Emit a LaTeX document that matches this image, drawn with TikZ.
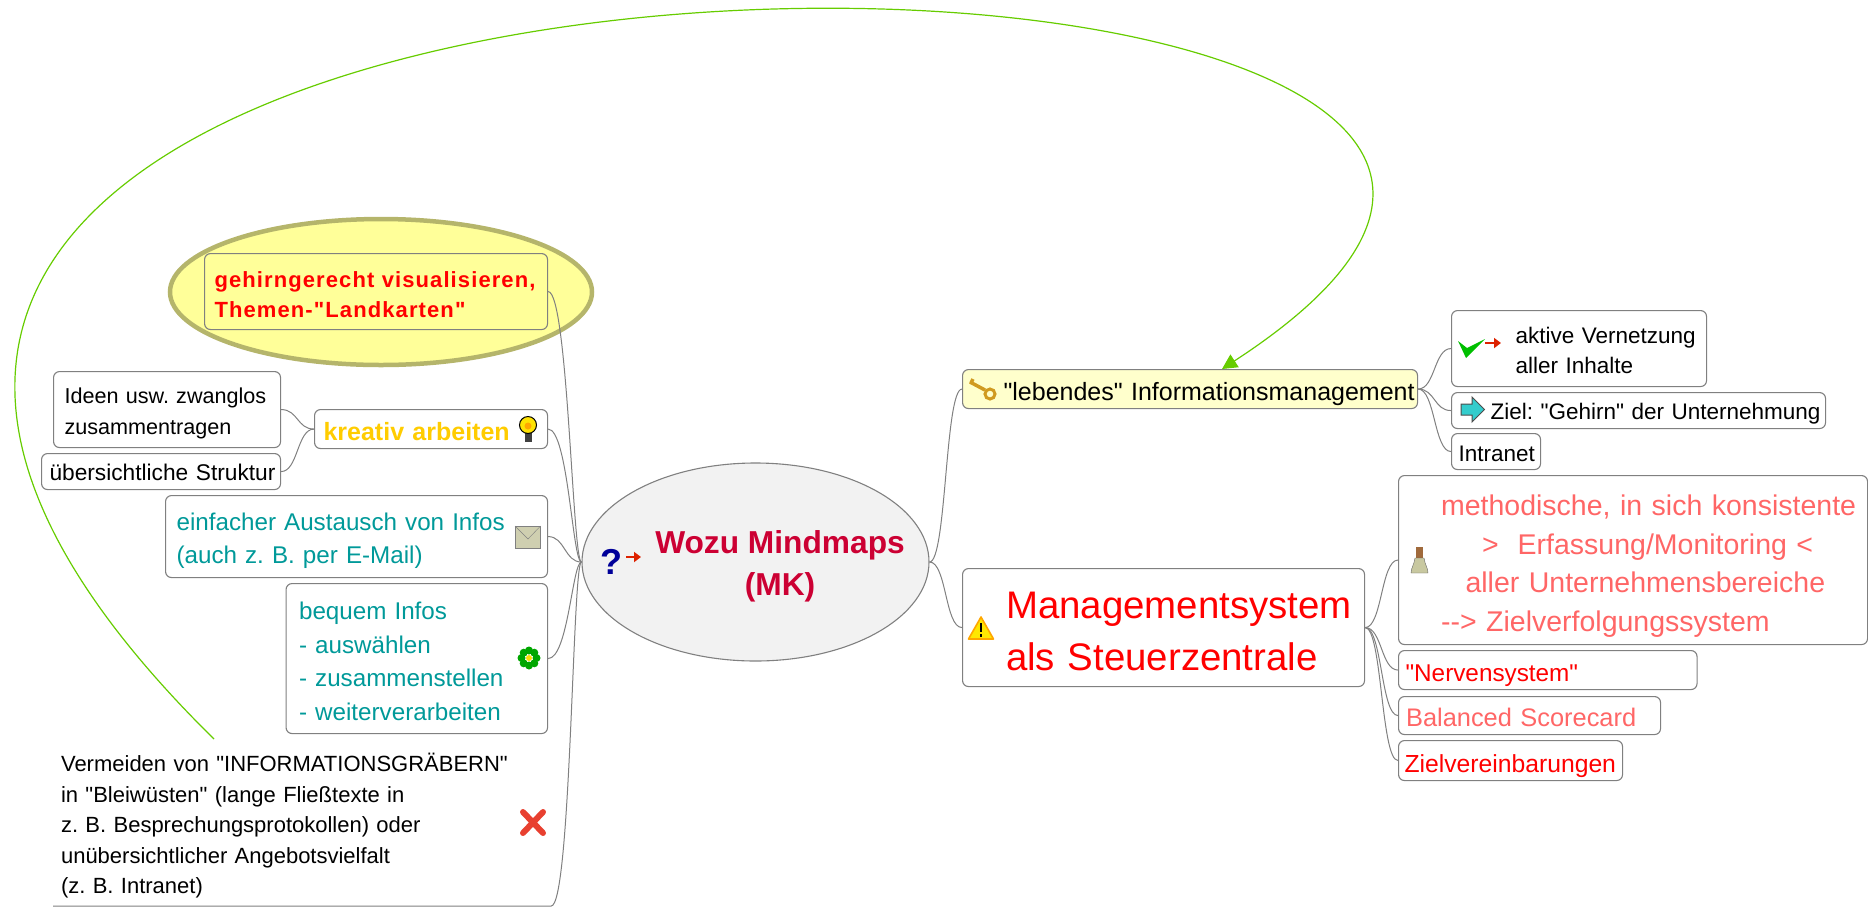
\documentclass[tikz,border=0pt]{standalone}
\usepackage{fontspec}
\newfontfamily\mapfont{Liberation Sans}
\newfontfamily\spacedfont[LetterSpace=5]{Liberation Sans}
\usetikzlibrary{shapes.geometric,arrows.meta}
\definecolor{linegray}{HTML}{808080}
\definecolor{tealtext}{HTML}{009999}
\definecolor{palered}{HTML}{FF6666}
\definecolor{rootred}{HTML}{CC0033}
\definecolor{linkgreen}{HTML}{66CC00}
\definecolor{amber}{HTML}{FFCC00}
\definecolor{arrowred}{HTML}{DD2200}
\definecolor{cloudfill}{HTML}{FFFF99}
\definecolor{cloudline}{HTML}{B5B56B}
\definecolor{keygold}{HTML}{D09A20}
\definecolor{envelope}{HTML}{CFCFB0}
\definecolor{arrowcyan}{HTML}{33CCCC}
\definecolor{crossred}{HTML}{E84030}
\definecolor{bellbody}{HTML}{C8C8A0}
\definecolor{bellbrown}{HTML}{A06A3C}
\newcommand{\sized}[2]{\fontsize{#1}{#2}\selectfont}
\newcommand{\drop}[1]{\rule{0pt}{#1pt}}
\tikzset{
    box/.style n args={3}{anchor=north west, draw=linegray, line width=1.1pt, rounded corners=6pt,
        inner sep=0pt, align=left, minimum width=#1pt, minimum height=#2pt, text width=#1pt-8pt,
        execute at begin node={\frenchspacing\leftskip=#3pt\rightskip=-200pt plus 1fil}},
    branch/.style 2 args={to path={.. controls +(#1,0) and +(-#2,0) .. (\tikztotarget)}},
    fork/.style={branch={17}{17}},
    trunk/.style={branch={20}{9}},
    connector/.style={draw=linegray, line width=1pt},
    smallarrow/.style={draw=arrowred, line width=2.8pt, -{Triangle[length=7pt,width=10pt]}},
}
\begin{document}
\begin{tikzpicture}[x=1pt,y=-1pt]
\mapfont
\useasboundingbox (0,0) rectangle (1868,906);
\node[ellipse, draw=cloudline, line width=4.5pt, fill=cloudfill, minimum width=422pt, minimum height=146pt, inner sep=0pt] (cloud) at (381,292) {};

% left side
\node[box={343}{76}{6}, fill=cloudfill, text=red, font=\spacedfont\bfseries\sized{22}{30}] (gehirn) at (204,253) {\drop{22}gehirngerecht visualisieren,\\Themen-"Landkarten"};
\node[box={233}{39}{5}, text=amber, font=\bfseries\sized{25}{30}] (kreativ) at (314,409) {\drop{23}kreativ arbeiten};
\node[box={227}{76}{7}, font=\sized{21.6}{31}] (ideen) at (53,371) {\drop{23.6}Ideen usw. zwanglos\\zusammentragen};
\node[box={239}{36}{4}, font=\sized{22.7}{30}] (struktur) at (41,453) {\drop{18}übersichtliche Struktur};
\node[box={382}{82}{7}, text=tealtext, font=\sized{24.2}{33}] (austausch) at (165,495) {\drop{26}einfacher Austausch von Infos\\(auch z. B. per E-Mail)};
\node[box={261.5}{150}{9}, text=tealtext, font=\sized{24.2}{33.7}] (bequem) at (285.5,583) {\drop{23}bequem Infos\\- auswählen\\- zusammenstellen\\- weiterverarbeiten};
\node[box={497}{160}{3.5}, draw=none, font=\sized{22}{30.5}] (vermeiden) at (53,745) {\drop{18.6}Vermeiden von "INFORMATIONSGRÄBERN"\\in "Bleiwüsten" (lange Fließtexte in\\z. B. Besprechungsprotokollen) oder\\unübersichtlicher Angebotsvielfalt\\(z. B. Intranet)};

% root
\node[ellipse, draw=linegray, line width=1.1pt, fill=black!5, text=rootred, align=center, inner sep=0pt, minimum width=347pt, minimum height=198pt, font=\bfseries\sized{31.7}{42}] (wozu) at (755.5,562) {\drop{31}\makebox[0pt]{\hspace*{49pt}Wozu Mindmaps}\\\makebox[0pt]{\hspace*{49pt}(MK)}};

% right side
\node[box={455}{39}{37}, fill=cloudfill!50, font=\sized{25}{30}] (lebendes) at (962,369) {\drop{28.5}"lebendes" Informationsmanagement};
\node[box={255}{76}{60}, font=\sized{22.5}{30.5}] (aktive) at (1451,310) {\drop{20.4}aktive Vernetzung\\aller Inhalte};
\node[box={374}{36}{35}, font=\sized{22.5}{30}] (ziel) at (1451,392) {\drop{22.4}Ziel: "Gehirn" der Unternehmung};
\node[box={89}{36}{3}, font=\sized{22.5}{30}] (intranet) at (1451,433) {\drop{20}Intranet};
\node[box={402}{118}{39.5}, text=red, font=\sized{38.4}{52}] (management) at (962,568) {\drop{34}Managementsystem\\als Steuerzentrale};
\node[box={469}{169}{38.5}, text=palered, font=\sized{28.5}{38.6}] (methodische) at (1398,475) {\drop{33}methodische, in sich konsistente\\\hspace*{41pt}>\ \ Erfassung/Monitoring <\\\hspace*{24.5pt}aller Unternehmensbereiche\\--> Zielverfolgungssystem};
\node[box={298.5}{39}{3}, text=red, font=\sized{24.3}{30}] (nerven) at (1398,650) {\drop{27}"Nervensystem"};
\node[box={262}{38}{3.5}, text=palered, font=\sized{25.4}{30}] (balanced) at (1398,696) {\drop{22}Balanced Scorecard};
\node[box={224}{40}{2}, text=red, font=\sized{24.7}{30}] (ziele) at (1398,740) {\drop{29}Zielvereinbarungen};

% connectors
\draw[connector] (ideen.east) to[fork] (kreativ.west);
\draw[connector] (struktur.east) to[fork] (kreativ.west);
\draw[connector] (gehirn.east) to[trunk] (wozu.west);
\draw[connector] (kreativ.east) to[trunk] (wozu.west);
\draw[connector] (austausch.east) to[fork] (wozu.west);
\draw[connector] (bequem.east) to[trunk] (wozu.west);
\draw[connector] (vermeiden.south west) -- (vermeiden.south east) to[trunk] (wozu.west);
\draw[connector] (wozu.east) to[fork] (lebendes.west);
\draw[connector] (wozu.east) to[fork] (management.west);
\foreach \leaf in {aktive,ziel,intranet} \draw[connector] (lebendes.east) to[fork] (\leaf.west);
\foreach \leaf in {methodische,nerven,balanced,ziele} \draw[connector] (management.east) to[fork] (\leaf.west);

% green link
\coordinate (linkstart) at (214,739);
\coordinate (linkend) at (1222,369);
\draw[linkgreen, line width=1.2pt, -{Triangle[length=15pt,width=15pt]}] (linkstart) .. controls (-725,-185) and (2004,-140) .. (linkend);

% icons
\node[text=blue!60!black, font=\bfseries\sized{36}{36}] (question) at (611,562) {?};
\coordinate (qtail) at (626,557);
\coordinate (qhead) at (641,557);
\draw[smallarrow] (qtail) -- (qhead);
\coordinate (ctail) at (1485,343);
\coordinate (chead) at (1501,343);
\draw[smallarrow] (ctail) -- (chead);
% bulb
\fill[black!75] (524.5,433) rectangle (531.5,442);
\draw[fill=yellow!85!orange, line width=1pt] (528,425) circle (8.5pt);
\fill[orange!70!yellow] (528,426) circle (3.5pt);
% envelope
\draw[fill=envelope, draw=black!50] (515,526) rectangle (540.5,548);
\draw[draw=black!50] (515,526) -- (528,539) -- (540.5,526);
% flower
\foreach \a in {0,45,...,315} \fill[green!65!black, shift={(529,658)}] (\a:7.5) circle (4pt);
\fill[yellow!80!orange] (529,658) circle (3pt);
% cross
\draw[crossred, line width=6pt, line cap=round] (523,812) -- (543,833) (543,812) -- (523,833);
% key
\draw[keygold, line width=3.5pt] (970,382) -- (985,390) (973,379) -- (971,383);
\draw[keygold, line width=3pt] (990,394) circle (5pt);
% check
\fill[green!75!black] (1458,341) -- (1467,348) -- (1485,339) -- (1466,358) -- cycle;
% teal arrow
\draw[fill=arrowcyan, draw=black!70, line width=1pt] (1461,404) -- (1472,404) -- (1472,397) -- (1484.5,409.5) -- (1472,422) -- (1472,415) -- (1461,415) -- cycle;
% bell
\fill[bellbrown] (1416,547) rectangle (1423,558);
\draw[fill=bellbody, draw=black!60] (1415,558) -- (1424,558) .. controls (1425,565) and (1428,568) .. (1428,573) -- (1411,573) .. controls (1411,568) and (1414,565) .. (1415,558) -- cycle;
% warning
\draw[fill=yellow!90!orange, draw=orange!70!yellow, line width=1.6pt, line join=round] (981,617) -- (968.5,639) -- (993.5,639) -- cycle;
\draw[black, line width=1.6pt] (981,623) -- (981,632) (981,634) -- (981,636.5);
\end{tikzpicture}
\end{document}
